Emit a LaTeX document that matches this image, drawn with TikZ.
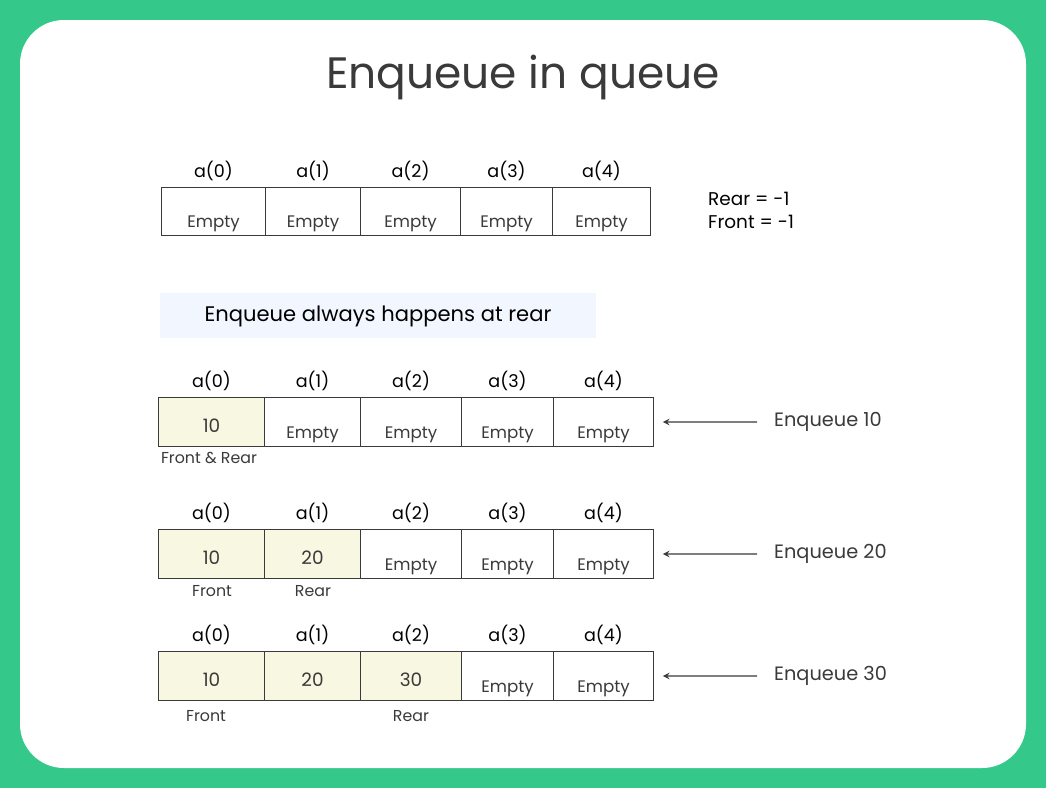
\documentclass[tikz,border=0pt]{standalone}
\usepackage{fontspec}
\setmainfont{Poppins}
\usetikzlibrary{positioning}
\definecolor{bggreen}{HTML}{34C98A}
\definecolor{ink}{HTML}{3A3A3A}
\definecolor{filled}{HTML}{F7F7E2}
\definecolor{banner}{HTML}{F2F6FE}
\tikzset{
  cellbox/.style={draw=ink, line width=0.6pt, inner sep=0pt, anchor=north west},
  idxlabel/.style={font=\fontsize{10}{12}\selectfont, text=black},
  emptylabel/.style={font=\fontsize{9.5}{11}\selectfont, text=ink, anchor=south, inner sep=1pt},
  vallabel/.style={font=\fontsize{10.5}{12}\selectfont, text=ink},
  ptrlabel/.style={font=\fontsize{9}{11}\selectfont, text=ink},
  oplabel/.style={font=\fontsize{11}{13}\selectfont, text=ink, anchor=west},
}
\begin{document}
\begin{tikzpicture}[x=0.02cm, y=-0.02cm]
    % Background
    \fill[bggreen] (0,0) rectangle (1046,788);
    \fill[white, rounded corners=25] (20,20) rectangle (1026,768);
    \node[text=ink, font=\fontsize{25}{30}\selectfont] (title) at (523,77) {Enqueue in queue};

    % Initial queue
    \foreach \i/\xa/\xb in {0/161/265, 1/265/360, 2/360/460, 3/460/552, 4/552/650} {
        \node[cellbox, minimum width=(\xb-\xa)*0.02cm, minimum height=0.96cm] (c0\i) at (\xa,187) {};
        \node[idxlabel, above=0pt of c0\i] {a(\i)};
        \node[emptylabel] at ([yshift=1pt]c0\i.south) {Empty};
    }
    \node[anchor=west, align=left, font=\fontsize{10.5}{13}\selectfont, text=black] (state) at (702,210) {Rear = -1\\Front = -1};

    % Banner
    \fill[banner] (160,293) rectangle (596,338);
    \node[font=\fontsize{12}{14}\selectfont, text=black] (rule) at (378,316) {Enqueue always happens at rear};

    % Enqueue steps
    \foreach \r/\y/\n/\v in {1/397/1/10, 2/529/2/20, 3/651/3/30} {
        \foreach \i/\xa/\xb in {0/158/264, 1/264/360, 2/360/461, 3/461/553, 4/553/653} {
            \pgfmathtruncatemacro{\isfull}{\i<\n ? 1 : 0}
            \ifnum\isfull=1
                \node[cellbox, fill=filled, minimum width=(\xb-\xa)*0.02cm, minimum height=0.98cm] (c\r\i) at (\xa,\y) {};
                \pgfmathtruncatemacro{\val}{10*(\i+1)}
                \node[vallabel] at ([yshift=-2pt]c\r\i.center) {\val};
            \else
                \node[cellbox, minimum width=(\xb-\xa)*0.02cm, minimum height=0.98cm] (c\r\i) at (\xa,\y) {};
                \node[emptylabel] at ([yshift=1pt]c\r\i.south) {Empty};
            \fi
            \node[idxlabel, above=0pt of c\r\i] {a(\i)};
        }
        \coordinate (tail\r) at (757,{\y+25});
        \draw[ink, line width=0.7pt, ->, >=stealth] (tail\r) -- ([xshift=5pt]c\r4.east);
        \node[oplabel] (op\r) at (768,{\y+25}) {Enqueue \v};
    }

    % Pointers
    \node[ptrlabel] (fr1) at (209,458) {Front \& Rear};
    \node[ptrlabel] (f2) at (212,591) {Front};
    \node[ptrlabel] (r2) at (313,591) {Rear};
    \node[ptrlabel] (f3) at (206,716) {Front};
    \node[ptrlabel] (r3) at (411,716) {Rear};
\end{tikzpicture}
\end{document}
